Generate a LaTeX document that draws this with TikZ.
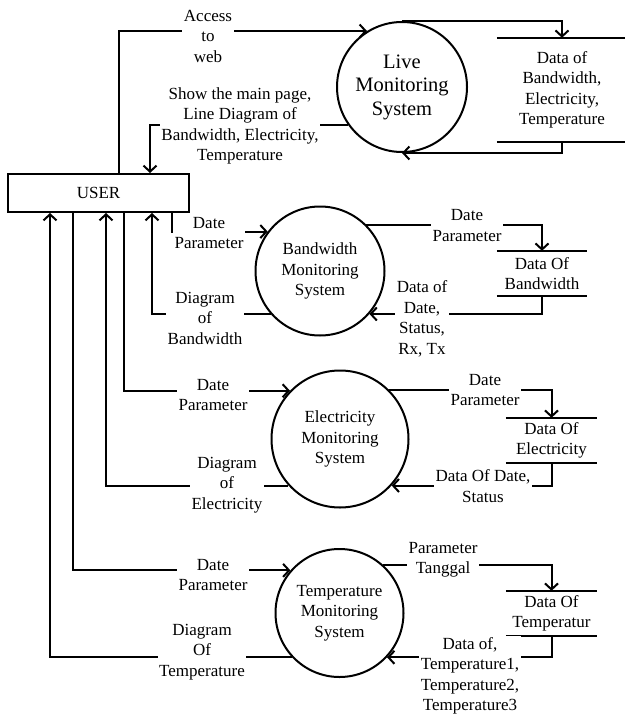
\documentclass[tikz,border=0pt]{standalone}
\usepackage{fontspec}
\setmainfont{Liberation Serif}
\usetikzlibrary{arrows.meta}
\begin{document}
\begin{tikzpicture}[x=1pt,y=-1pt,
  every node/.style={font=\rmfamily\fontsize{17}{20.5}\selectfont, inner sep=0pt},
  proc/.style={draw, circle, line width=2pt, align=center},
  ext/.style={draw, rectangle, line width=2pt},
  store/.style={rectangle, align=center},
  flow/.style={line width=2pt, -{Straight Barb[length=6pt,width=13pt]}},
  wire/.style={line width=2pt},
  lbl/.style={fill=white, align=center, inner sep=1.5pt}]
\useasboundingbox (0,0) rectangle (624,717);

% external entity
\node[ext, minimum width=181pt, minimum height=38pt] (user) at (98.5,193) {USER};

% processes
\node[proc, minimum size=130pt, font=\rmfamily\fontsize{20.5}{23.5}\selectfont] (live) at (402,87) {Live\\Monitoring\\System};
\node[proc, minimum size=129pt] (bw) at (320,271) {Bandwidth\\Monitoring\\System};
\node[proc, minimum size=137pt] (el) at (340,439) {Electricity\\Monitoring\\System};
\node[proc, minimum size=128pt] (tp) at (339.5,613) {Temperature\\Monitoring\\System};

% data stores (open-ended, two rules each)
\node[store, minimum width=130pt, minimum height=104pt] (dsLive) at (562,90) {Data of\\Bandwidth,\\Electricity,\\Temperature};
\node[store, minimum width=90pt, minimum height=45pt] (dsBW) at (542,273.5) {Data Of\\Bandwidth};
\node[store, minimum width=91pt, minimum height=45pt] (dsEL) at (551.5,440.5) {Data Of\\Electricity};
\node[store, minimum width=91pt, minimum height=45pt] (dsTP) at (551.5,613.5) {Data Of\\Temperatur};
\foreach \s in {dsLive,dsBW,dsEL,dsTP}{
  \draw[wire] (\s.north west) -- (\s.north east);
  \draw[wire] (\s.south west) -- (\s.south east);
}

% live monitoring flows
\draw[flow] (user.north -| 119,0) |- (live.122.5);
\draw[flow] (live.215.8) -| (user.north -| 150,0);
\draw[flow] (live.north) -| (dsLive.north);
\draw[flow] (dsLive.south) |- (live.south);

% bandwidth flows
\draw[flow] (user.south -| 172,0) |- (bw.143.9);
\draw[flow] (bw.221.8) -| (user.south -| 152,0);
\draw[flow] (bw.45.5) -| (dsBW.north);
\draw[flow] (dsBW.south) |- (bw.-41.8);

% electricity flows
\draw[flow] (user.south -| 124,0) |- (el.136.7);
\draw[flow] (el.222.2) -| (user.south -| 106,0);
\draw[flow] (el.45.6) -| (dsEL.north);
\draw[flow] (dsEL.south) |- (el.-42.2);

% temperature flows
\draw[flow] (user.south -| 73,0) |- (tp.139);
\draw[flow] (tp.223.4) -| (user.south -| 50,0);
\draw[flow] (tp.48.6) -| (dsTP.north);
\draw[flow] (dsTP.south) |- (tp.-43.4);

% flow labels
\node[lbl] (lAccess) at (208,36) {Access\\to\\web};
\node[lbl] (lShow) at (240,126) {Show the main page,\\Line Diagram of\\Bandwidth, Electricity,\\Temperature};

\node[lbl] (lBwIn) at (209,233) {Date\\Parameter};
\node[lbl] (lBwOut) at (205,318) {Diagram\\of\\Bandwidth};
\node[lbl] (lBwSt) at (467,225.5) {Date\\Parameter};
\node[lbl] (lBwRd) at (422,319) {Data of\\Date,\\Status,\\Rx, Tx};

\node[lbl] (lElIn) at (213,395) {Date\\Parameter};
\node[lbl] (lElOut) at (227,485) {Diagram\\of\\Electricity};
\node[lbl] (lElSt) at (485,390) {Date\\Parameter};
\node[lbl] (lElRd) at (483,486) {Data Of Date,\\Status};

\node[lbl] (lTpIn) at (213,575) {Date\\Parameter};
\node[lbl] (lTpOut) at (202,652) {Diagram\\Of\\Temperature};
\node[lbl] (lTpSt) at (443,560) {Parameter\\Tanggal};
\node[lbl] (lTpRd) at (470,676) {Data of,\\Temperature1,\\Temperature2,\\Temperature3};
\end{tikzpicture}
\end{document}
